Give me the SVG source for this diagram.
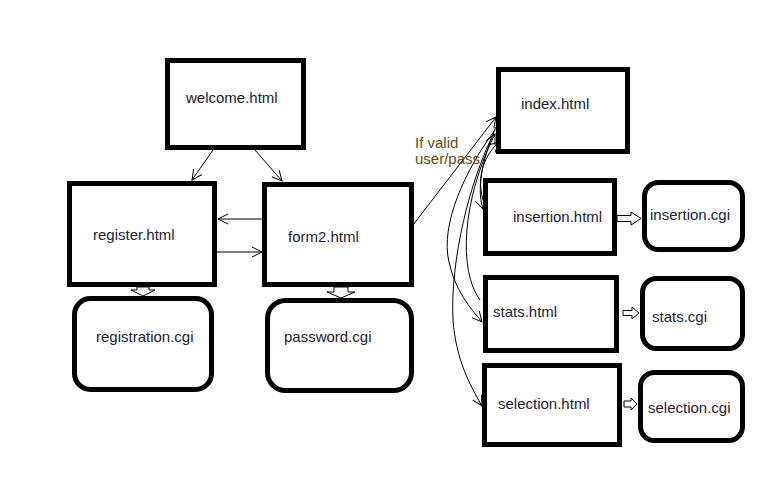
<svg xmlns="http://www.w3.org/2000/svg" width="760" height="504" viewBox="0 0 760 504">
<defs>
<style>
.box{fill:#fff;stroke:#000;stroke-width:5}
.lbl{font-family:"Liberation Sans",Arial,sans-serif;font-size:15px;fill:#1b2233}
.note{font-family:"Liberation Sans",Arial,sans-serif;font-size:15px;fill:#6b4516}
.ln{fill:none;stroke:#000;stroke-width:1}
.hollow{fill:#fff;stroke:#000;stroke-width:1}
</style>
<marker id="arr" markerUnits="userSpaceOnUse" markerWidth="12" markerHeight="12" refX="10" refY="5" orient="auto" viewBox="0 0 12 10">
<path d="M0,0 L10,5 L0,10" fill="none" stroke="#000" stroke-width="1"/>
</marker>
</defs>
<rect width="760" height="504" fill="#fff"/>

<g id="connectors">
<path class="ln" d="M213,150 L192,180" marker-end="url(#arr)"/>
<path class="ln" d="M255,150 L282,181" marker-end="url(#arr)"/>
<path class="ln" d="M262,219 L218,219" marker-end="url(#arr)"/>
<path class="ln" d="M217,252 L262,252" marker-end="url(#arr)"/>
<path class="ln" d="M413,225 L496,117" marker-end="url(#arr)"/>
<path class="ln" d="M496,127 C486,150 475,185 483,209" marker-end="url(#arr)"/>
<path class="ln" d="M495,130 C465,170 440,225 449,262 C455,290 470,308 482,322" marker-end="url(#arr)"/>
<path class="ln" d="M494,133 C470,180 450,260 453,320 C456,360 470,385 482,406" marker-end="url(#arr)"/>
<path class="ln" d="M480,300 C458,270 462,200 495,134" marker-end="url(#arr)"/>
<path class="ln" d="M483,200 C476,175 485,155 499,142" marker-end="url(#arr)"/>
<polygon class="hollow" points="137,287 137,290 131,290 143,296 155,290 149,290 149,287"/>
<polygon class="hollow" points="334,287 334,292 327,292 341,298 355,292 348,292 348,287"/>
<polygon class="hollow" points="617,215.5 631,215.5 631,212 641,218.5 631,225 631,221.5 617,221.5"/>
<polygon class="hollow" points="623,310.5 632,310.5 632,307 639,313 632,319 632,315.5 623,315.5"/>
<polygon class="hollow" points="624,401 631,401 631,398 637,404 631,410 631,407 624,407"/>
</g>

<g id="welcome"><rect class="box" x="167.5" y="60.5" width="136" height="87"/><text class="lbl" x="186" y="103">welcome.html</text></g>
<g id="register"><rect class="box" x="69.5" y="183.5" width="145" height="101"/><text class="lbl" x="93" y="240">register.html</text></g>
<g id="form2"><rect class="box" x="264.5" y="184.5" width="147" height="100"/><text class="lbl" x="288" y="242">form2.html</text></g>
<g id="registration"><rect class="box" x="74.5" y="298.5" width="137" height="91" rx="16"/><text class="lbl" x="96" y="342">registration.cgi</text></g>
<g id="password"><rect class="box" x="267.5" y="300.5" width="144" height="90" rx="18"/><text class="lbl" x="284" y="342">password.cgi</text></g>
<g id="index"><rect class="box" x="498.5" y="69.5" width="129" height="82"/><text class="lbl" x="521" y="109">index.html</text></g>
<g id="insertion"><rect class="box" x="485.5" y="180.5" width="129" height="73"/><text class="lbl" x="513" y="222">insertion.html</text></g>
<g id="stats"><rect class="box" x="485.5" y="277.5" width="131" height="73"/><text class="lbl" x="493" y="317">stats.html</text></g>
<g id="selection"><rect class="box" x="484.5" y="365.5" width="135" height="79"/><text class="lbl" x="498" y="409">selection.html</text></g>
<g id="insertion-cgi"><rect class="box" x="644.5" y="182.5" width="98" height="67" rx="14"/><text class="lbl" x="650" y="220">insertion.cgi</text></g>
<g id="stats-cgi"><rect class="box" x="642.5" y="278.5" width="100" height="70" rx="14"/><text class="lbl" x="652" y="322">stats.cgi</text></g>
<g id="selection-cgi"><rect class="box" x="640.5" y="372.5" width="102" height="68" rx="14"/><text class="lbl" x="648" y="413">selection.cgi</text></g>
<g id="note"><text class="note" x="415" y="148">If valid</text><text class="note" x="415" y="164">user/pass</text></g>
</svg>
